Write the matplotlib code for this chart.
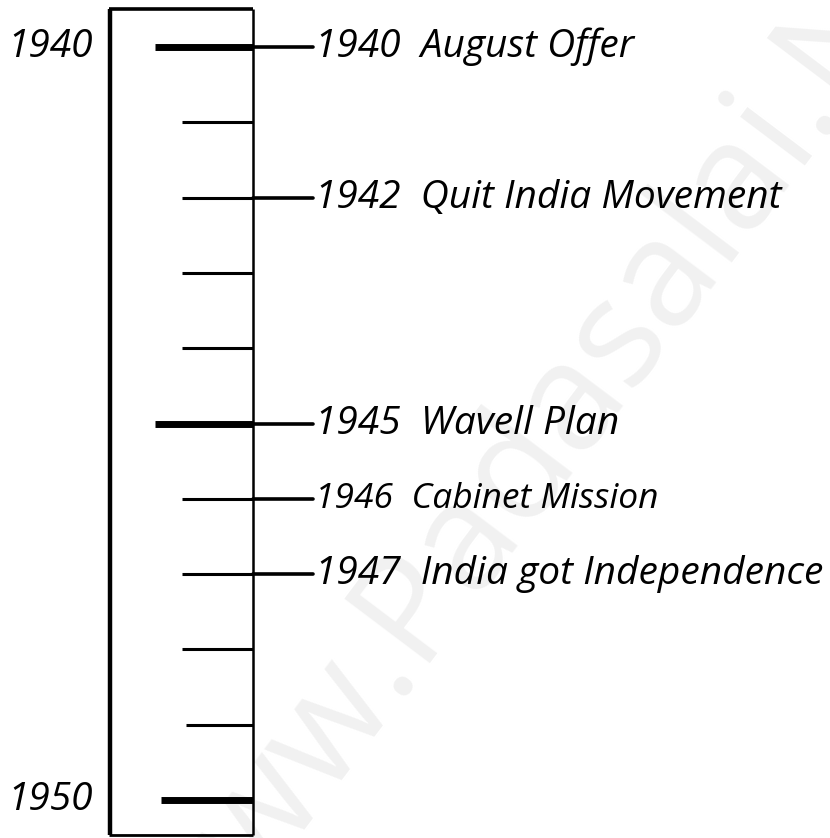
import matplotlib.pyplot as plt

# timeline data
years = [1940, 1941, 1942, 1943, 1944, 1945, 1946, 1947, 1948, 1949, 1950]
major_years = [1940, 1945, 1950]
edge_labels = ["1940", "1950"]
event_years = [1940, 1942, 1945, 1946, 1947]
event_names = ["August Offer", "Quit India Movement", "Wavell Plan",
               "Cabinet Mission", "India got Independence"]
event_sizes = [28, 28, 28, 25.5, 28]

FONT = ["Open Sans", "DejaVu Sans"]

fig = plt.figure(figsize=(8.30, 8.38), dpi=100)
ax = fig.add_axes([0, 0, 1, 1])
ax.set_xlim(0, 830)
# 1940 sits at 47 px from top, 1950 at 800 px -> 75.3 px per year
px_per_year = (800 - 47) / 10
ax.set_ylim(1950 + (838 - 800) / px_per_year, 1940 - 47 / px_per_year)
ax.axis("off")

# faint watermark
ax.text(560, 1945.0, "www.Padasalai.Net", rotation=53, fontsize=108,
        color="#f1f1f1", ha="center", va="center", family=FONT, zorder=0)

# the box
top = 1940 - 38 / px_per_year
bottom = 1950 + 35 / px_per_year
ax.plot([110, 110], [top, bottom], color="black", lw=3.2, solid_capstyle="butt")
ax.plot([109, 253], [top, top], color="black", lw=2.6, solid_capstyle="butt")
ax.plot([109, 253], [bottom, bottom], color="black", lw=2.0, solid_capstyle="butt")
ax.plot([253, 253], [top, bottom], color="black", lw=1.8, solid_capstyle="butt")

# year ticks
for y in years:
    if y in major_years:
        start = 155 if y != 1950 else 161
        ax.plot([start, 253], [y, y], color="black", lw=5, solid_capstyle="butt")
    else:
        start = 182 if y != 1949 else 186
        ax.plot([start, 253], [y, y], color="black", lw=2.2, solid_capstyle="butt")

# edge year labels
for lab, y in zip(edge_labels, [1940, 1950]):
    ax.text(7, y, lab, fontsize=28, style="italic", family=FONT,
            ha="left", va="center")

# event connectors and labels
for y, name, fs in zip(event_years, event_names, event_sizes):
    ax.plot([253, 313], [y, y], color="black", lw=2.6, solid_capstyle="round")
    ax.text(315, y, f"{y}  {name}", fontsize=fs, style="italic", family=FONT,
            ha="left", va="center")

fig.savefig("out.png", dpi=100)
